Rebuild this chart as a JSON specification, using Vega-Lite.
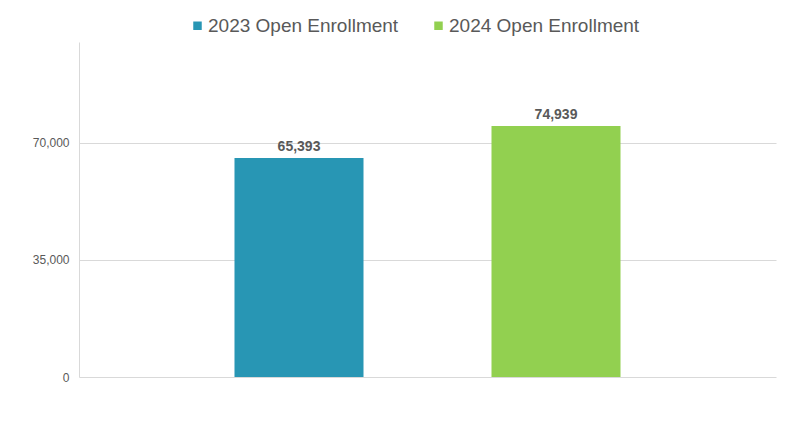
{
  "$schema": "https://vega.github.io/schema/vega-lite/v6.json",
  "width": 697,
  "height": 335,
  "autosize": "none",
  "padding": {"left": 79, "top": 42, "right": 25, "bottom": 56},
  "background": "white",
  "config": {
    "view": {"stroke": null},
    "font": "Liberation Sans"
  },
  "data": {
    "values": [
      {"series": "2023 Open Enrollment", "enrollment": 65393},
      {"series": "2024 Open Enrollment", "enrollment": 74939}
    ]
  },
  "encoding": {
    "x": {
      "field": "series",
      "type": "nominal",
      "axis": null,
      "scale": {"paddingInner": 0.498, "paddingOuter": 0.605},
      "sort": null
    },
    "y": {
      "field": "enrollment",
      "type": "quantitative",
      "scale": {"domain": [0, 100000], "nice": false},
      "axis": {
        "title": null,
        "values": [0, 35000, 70000],
        "format": ",d",
        "ticks": false,
        "labelPadding": 10,
        "labelFontSize": 12,
        "labelColor": "#595959",
        "gridColor": "#d9d9d9",
        "domainColor": "#d9d9d9",
        "labelFont": "Liberation Sans"
      }
    }
  },
  "layer": [
    {
      "mark": {"type": "bar"},
      "encoding": {
        "color": {
          "field": "series",
          "type": "nominal",
          "scale": {"range": ["#2896B4", "#92D050"]},
          "legend": {
            "title": null,
            "orient": "none",
            "legendX": 109,
            "legendY": -26,
            "padding": 0,
            "direction": "horizontal",
            "symbolType": "square",
            "symbolSize": 72,
            "symbolStrokeWidth": 0,
            "labelFontSize": 19,
            "labelFont": "Liberation Sans",
            "labelColor": "#595959",
            "labelOffset": 1,
            "columnPadding": 30,
            "labelLimit": 400
          }
        }
      }
    },
    {
      "mark": {
        "type": "text",
        "baseline": "alphabetic",
        "dy": -7,
        "fontSize": 14,
        "fontWeight": "bold",
        "color": "#595959",
        "font": "Liberation Sans"
      },
      "encoding": {
        "text": {"field": "enrollment", "type": "quantitative", "format": ",d"}
      }
    }
  ]
}
